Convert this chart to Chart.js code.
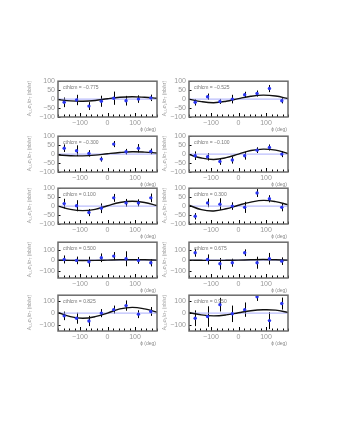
<!DOCTYPE html>
<html><head><meta charset="utf-8">
<script src="https://cdn.jsdelivr.net/npm/chart.js@4"></script>
<style>
body{margin:0;background:#fff;width:340px;height:440px;overflow:hidden;position:relative;font-family:"Liberation Sans",Arial,sans-serif}
canvas{position:absolute}
.yt{position:absolute;width:37px;height:6px;line-height:6px;transform:rotate(-90deg);transform-origin:left top;font-size:5px;color:#999;white-space:nowrap;text-align:center}
.yt sub{font-size:3.5px;vertical-align:-1px;line-height:0}
</style></head><body>
<script>
// phi bin centres (deg) and fit sampling points
const phiBins = [-157.5, -112.5, -67.5, -22.5, 22.5, 67.5, 112.5, 157.5];
const fitPhi  = [-180, -135, -90, -45, 0, 45, 90, 135, 180];
const cthLabels = ["-0.775", "-0.525", "-0.300", "-0.100", "0.100", "0.300", "0.500", "0.675", "0.825", "0.950"];

const val1 = [-18, -5, -39, -12, 5, -9, 0, 7];
const err1 = [27, 29, 22, 31, 37, 27, 21, 18];
const fit1 = [-3, -10, -12, -8, 2, 10, 13, 10, 5];

const val2 = [-18, 13, -13, 0, 24, 31, 59, -9];
const err2 = [18, 18, 14, 24, 17, 17, 20, 15];
const fit2 = [0, -14, -20, -12, 3, 16, 22, 17, 3];

const val3 = [33, 19, 4, -28, 56, 13, 33, 15];
const err3 = [21, 30, 18, 14, 17, 16, 23, 16];
const fit3 = [-5, -9, -10, -6, 2, 9, 13, 11, 6];

const val4 = [-9, -15, -41, -33, -9, 22, 37, 0];
const err4 = [24, 21, 19, 20, 22, 16, 17, 17];
const fit4 = [-3, -22, -30, -20, 0, 20, 28, 22, 3];

const val5 = [14, 2, -36, -12, 46, 18, 18, 46];
const err5 = [27, 31, 20, 27, 22, 22, 20, 24];
const fit5 = [0, -18, -25, -18, 2, 20, 27, 20, 3];

const val6 = [-57, 18, 11, 0, -7, 73, 41, -7];
const err6 = [18, 24, 33, 21, 31, 22, 20, 22];
const fit6 = [5, -20, -27, -15, 5, 22, 32, 25, 8];

const val7 = [6, -3, -16, 22, 38, 13, -3, -25];
const err7 = [38, 36, 48, 41, 38, 71, 32, 35];
const fit7 = [0, -3, -4, -3, 0, 3, 4, 3, 0];

const val8 = [70, 6, -35, -25, 70, -25, 13, -10];
const err8 = [38, 48, 55, 38, 32, 57, 55, 36];
const fit8 = [0, -2, -3, -2, 0, 3, 5, 3, 0];

const val9 = [-23, -43, -66, 0, 29, 63, -9, 14];
const err9 = [36, 46, 43, 34, 34, 43, 33, 37];
const fit9 = [5, -30, -43, -30, 0, 35, 48, 35, 8];

const val10 = [-43, -29, 71, -6, 29, 137, -63, 80];
const err10 = [66, 86, 57, 69, 60, 35, 71, 50];
const fit10 = [5, -15, -23, -15, 3, 20, 28, 25, 6];

const xTicks = [-100, 0, 100];
const yTicksSmall = [-100, -50, 0, 50, 100];
const yTicksLarge = [-100, 0, 100];
const yRanges = [100, 100, 100, 170, 150];

const panels = [
  [val1, err1, fit1], [val2, err2, fit2], [val3, err3, fit3], [val4, err4, fit4], [val5, err5, fit5],
  [val6, err6, fit6], [val7, err7, fit7], [val8, err8, fit8], [val9, err9, fit9], [val10, err10, fit10]
];

const frameLefts = [58, 189];
const frameTops = [80, 135, 187, 241, 294];
const FW = 99, FH = 37, PADL = 40, PADR = 8, PADT = 6, PADB = 17;

const fmt = v => v < 0 ? '\u2212' + Math.abs(v) : '' + v;

const panelPlugin = {
  id: 'panelDeco',
  beforeDatasetsDraw(chart) {
    const {ctx, chartArea: a, scales: {x, y}} = chart;
    const o = chart.options.plugins.panelDeco;
    ctx.save();
    ctx.beginPath(); ctx.rect(a.left, a.top, a.right - a.left, a.bottom - a.top); ctx.clip();
    ctx.strokeStyle = '#000'; ctx.lineWidth = 1;
    phiBins.forEach((p, i) => {
      const px = Math.round(x.getPixelForValue(p)) + 0.5;
      ctx.beginPath();
      ctx.moveTo(px, y.getPixelForValue(o.vals[i] - o.errs[i]));
      ctx.lineTo(px, y.getPixelForValue(o.vals[i] + o.errs[i]));
      ctx.stroke();
    });
    ctx.restore();
  },
  afterDatasetsDraw(chart) {
    const {ctx, chartArea: a, scales: {x, y}} = chart;
    const o = chart.options.plugins.panelDeco;
    ctx.save();
    ctx.strokeStyle = '#000'; ctx.lineWidth = 1;
    for (let v = -180; v <= 180; v += 20) {
      const px = Math.round(x.getPixelForValue(v)) + 0.5;
      const len = (v % 100 === 0) ? 4 : 2.5;
      ctx.beginPath(); ctx.moveTo(px, a.bottom); ctx.lineTo(px, a.bottom - len); ctx.stroke();
    }
    o.yt.forEach(v => {
      const py = Math.round(y.getPixelForValue(v)) + 0.5;
      ctx.beginPath(); ctx.moveTo(a.left, py); ctx.lineTo(a.left + 2.5, py); ctx.stroke();
    });
    ctx.strokeStyle = '#6a6a6a'; ctx.lineWidth = 1.5;
    ctx.strokeRect(a.left, a.top, a.right - a.left, a.bottom - a.top);
    ctx.fillStyle = '#777'; ctx.font = '5px "Liberation Sans", Arial, sans-serif';
    ctx.textBaseline = 'middle'; ctx.textAlign = 'left';
    ctx.fillText('cthlcm = ' + o.label.replace('-', '\u2212'), a.left + 5, a.top + 6);
    ctx.fillStyle = '#888'; ctx.textAlign = 'right';
    ctx.fillText('\u03D5 (deg)', a.right - 1, a.bottom + 12.5);
    ctx.restore();
  }
};

panels.forEach(([vals, errs, fit], i) => {
  const col = i % 2;
  const row = Math.floor(i / 2);
  const fl = frameLefts[col], ft = frameTops[row];
  const cv = document.createElement('canvas');
  cv.width = PADL + FW + PADR; cv.height = PADT + FH + PADB;
  cv.style.left = (fl - PADL) + 'px'; cv.style.top = (ft - PADT) + 'px';
  cv.style.width = cv.width + 'px'; cv.style.height = cv.height + 'px';
  document.body.appendChild(cv);
  const R = yRanges[row];
  const yt = row < 3 ? yTicksSmall : yTicksLarge;
  new Chart(cv, {
    type: 'line',
    data: {
      datasets: [
        {data: [{x: -180, y: 0}, {x: 180, y: 0}], borderColor: '#a9aefc', borderWidth: 1, pointRadius: 0, order: 3},
        {data: fitPhi.map((p, k) => ({x: p, y: fit[k]})), borderColor: '#111', borderWidth: 1.4, pointRadius: 0, tension: 0.4, order: 2},
        {data: phiBins.map((p, k) => ({x: p, y: vals[k]})), showLine: false, pointRadius: 1.7, pointStyle: 'circle',
         backgroundColor: '#2a35f0', borderColor: '#2a35f0', borderWidth: 0, order: 1}
      ]
    },
    options: {
      responsive: false, animation: false, devicePixelRatio: 1,
      layout: {padding: {left: 0, right: PADR, top: PADT, bottom: 0}},
      plugins: {legend: {display: false}, tooltip: {enabled: false},
        panelDeco: {vals, errs, yt, label: cthLabels[i]}},
      scales: {
        x: {type: 'linear', min: -180, max: 180,
          afterBuildTicks: s => { s.ticks = xTicks.map(v => ({value: v})); },
          afterFit: s => { s.height = PADB; },
          grid: {display: false, drawTicks: false}, border: {display: false},
          ticks: {font: {size: 7, family: '"Liberation Sans", Arial, sans-serif'}, color: '#999', padding: 2, maxRotation: 0, autoSkip: false, callback: fmt}},
        y: {type: 'linear', min: -R, max: R,
          afterBuildTicks: s => { s.ticks = yt.map(v => ({value: v})); },
          afterFit: s => { s.width = PADL; },
          grid: {display: false, drawTicks: false}, border: {display: false},
          ticks: {font: {size: 7, family: '"Liberation Sans", Arial, sans-serif'}, color: '#999', padding: 3, autoSkip: false, callback: fmt}}
      }
    },
    plugins: [panelPlugin]
  });
  const d = document.createElement('div');
  d.className = 'yt';
  d.innerHTML = 'A<sub>LU</sub>\u03C3<sub>L</sub>/\u03C3<sub>T</sub> (nb/sr)';
  d.style.left = (col === 0 ? 26 : 161) + 'px';
  d.style.top = (ft + FH) + 'px';
  document.body.appendChild(d);
});
</script>
</body></html>
